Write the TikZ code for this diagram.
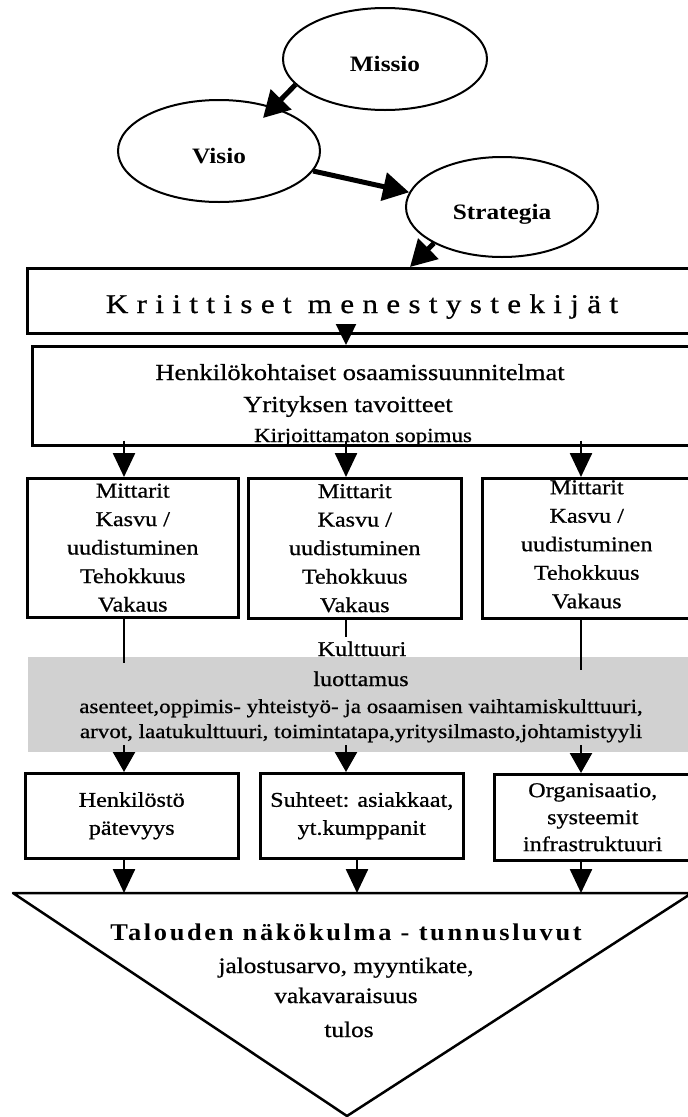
\documentclass[tikz,border=0pt]{standalone}
\usepackage{fontspec}
\setmainfont{Liberation Serif}[FakeStretch=1.15,UprightFeatures={FakeBold=0.7}]
\newfontfamily\trackedfont{Liberation Serif}[FakeStretch=1.15,LetterSpace=31,FakeBold=0.7]
\newfontfamily\trackedboldfont{Liberation Serif}[FakeStretch=1.1,LetterSpace=11]
\usetikzlibrary{shapes.geometric,arrows.meta,calc}

\tikzset{
  oval/.style={ellipse, draw, line width=2pt, inner sep=0pt,
    text height=24pt, text depth=0pt,
    font=\fontsize{22pt}{24pt}\selectfont\bfseries},
  frame/.style={draw, line width=2.5pt, rectangle, inner sep=0pt,
    anchor=north west, align=center},
  boxtext/.style={font=\fontsize{21pt}{28.5pt}\selectfont},
  txt/.style={anchor=base, inner sep=0pt},
  bigflow/.style={line width=5pt, -{Triangle[length=26pt,width=28pt]}},
  flow/.style={line width=2.5pt, -{Triangle[length=24pt,width=22pt]}},
  shortflow/.style={line width=2.5pt, -{Triangle[length=20pt,width=22pt]}},
  link/.style={line width=2.5pt},
}

\begin{document}
\begin{tikzpicture}[x=1pt,y=-1pt]
\useasboundingbox (0,0) rectangle (688,1117);
\clip (0,0) rectangle (688,1117);
\fill[white] (0,0) rectangle (688,1117);

% columns used by the vertical connectors
\coordinate (c1) at (124,0);
\coordinate (c2) at (346,0);
\coordinate (c3) at (581,0);
\coordinate (d2) at (357,0);

% mission, vision, strategy
\node[oval, minimum width=204pt, minimum height=102pt] (missio) at (385,59) {Missio};
\node[oval, minimum width=202pt, minimum height=102pt] (visio) at (219,151) {Visio};
\node[oval, minimum width=192pt, minimum height=100pt] (strategia) at (502,207) {Strategia};

% critical success factors
\node[frame, minimum width=664pt, minimum height=65pt] (ksf) at (26,267) {};
\node[txt, font=\trackedfont\fontsize{27pt}{30pt}\selectfont] (ksftext) at (362,313) {Kriittiset menestystekijät};
\coordinate (ksftop) at (410,267);

% plans and goals
\node[frame, minimum width=659pt, minimum height=99pt] (plan) at (31,345) {};
\node[txt, font=\fontsize{23pt}{28pt}\selectfont] (plan1) at (360,380) {Henkilökohtaiset osaamissuunnitelmat};
\node[txt, font=\fontsize{23pt}{28pt}\selectfont] (plan2) at (348,412) {Yrityksen tavoitteet};
\node[txt, font=\fontsize{20pt}{24pt}\selectfont] (plan3) at (363,442) {Kirjoittamaton sopimus};

% measures
\node[frame, boxtext, minimum width=211pt, minimum height=139pt] (m1) at (26,477)
  {Mittarit\\Kasvu /\\uudistuminen\\Tehokkuus\\Vakaus};
\node[frame, boxtext, minimum width=213pt, minimum height=140pt] (m2) at (247,477)
  {Mittarit\\Kasvu /\\uudistuminen\\Tehokkuus\\Vakaus};
\node[frame, boxtext, text depth=8pt, minimum width=209pt, minimum height=140pt] (m3) at (481,477)
  {Mittarit\\Kasvu /\\uudistuminen\\Tehokkuus\\Vakaus};

% culture band
\node[fill=black!18, inner sep=0pt, anchor=north west, minimum width=662pt, minimum height=95pt] (band) at (28,657) {};
\node[txt, font=\fontsize{21pt}{24pt}\selectfont] (kult) at (362,656) {Kulttuuri};
\node[txt, font=\fontsize{21pt}{24pt}\selectfont] (trust) at (361,686) {luottamus};
\node[txt, font=\fontsize{20pt}{24pt}\selectfont] (att) at (361,713) {asenteet,oppimis- yhteistyö- ja osaamisen vaihtamiskulttuuri,};
\node[txt, font=\fontsize{20pt}{24pt}\selectfont] (vals) at (361,738) {arvot, laatukulttuuri, toimintatapa,yritysilmasto,johtamistyyli};

% resources
\node[frame, boxtext, font=\fontsize{21pt}{28pt}\selectfont, minimum width=213pt, minimum height=85pt] (b1) at (24,772)
  {Henkilöstö\\pätevyys};
\node[frame, boxtext, font=\fontsize{21pt}{28pt}\selectfont, minimum width=203pt, minimum height=85pt] (b2) at (259,772)
  {Suhteet: asiakkaat,\\yt.kumppanit};
\node[frame, boxtext, font=\fontsize{21pt}{27pt}\selectfont, minimum width=197pt, minimum height=86pt] (b3) at (493,773)
  {Organisaatio,\\systeemit\\infrastruktuuri};

% financial perspective
\coordinate (fintl) at (13,893);
\coordinate (fintr) at (692,893);
\coordinate (finapex) at (347,1116);
\draw[link, line join=round] (fintl) -- (fintr) -- (finapex) -- cycle;
\node[txt, font=\trackedboldfont\fontsize{24pt}{28pt}\selectfont\bfseries] (fin1) at (346,940) {Talouden näkökulma - tunnusluvut};
\node[txt, font=\fontsize{22pt}{24pt}\selectfont] (fin2) at (346,973) {jalostusarvo, myyntikate,};
\node[txt, font=\fontsize{22pt}{24pt}\selectfont] (fin3) at (346,1003) {vakavaraisuus};
\node[txt, font=\fontsize{22pt}{24pt}\selectfont] (fin4) at (349,1037) {tulos};

% connectors
\draw[bigflow] (missio.196) -- ($(visio.center)+(44,-33)$);
\draw[bigflow] (visio.348) -- (strategia.171);
\draw[bigflow] (strategia.208) -- (ksftop);
\draw[line width=2.5pt, -{Triangle[length=21pt,width=20pt]}] ($(ksf.south -| c2)+(0,-10)$) -- (plan.north -| c2);

\draw[flow] ($(plan.south -| c1)+(0,-6)$) -- (m1.north -| c1);
\draw[flow] ($(plan.south -| c2)+(0,-6)$) -- (m2.north -| c2);
\draw[flow] ($(plan.south -| c3)+(0,-6)$) -- (m3.north -| c3);

\draw[link] (m1.south -| c1) -- ($(band.north -| c1)+(0,6)$);
\draw[link] (m2.south -| c2) -- ($(kult.north -| c2)+(0,-4)$);
\draw[link] (m3.south -| c3) -- ($(band.north -| c3)+(0,13)$);

\draw[shortflow] ($(band.south -| c1)+(0,-7)$) -- (b1.north -| c1);
\draw[shortflow] ($(band.south -| c2)+(0,-7)$) -- (b2.north -| c2);
\draw[shortflow] ($(band.south -| c3)+(0,-7)$) -- (b3.north -| c3);

\draw[flow] (b1.south -| c1) -- (c1 |- fintl);
\draw[flow] (b2.south -| d2) -- (d2 |- fintl);
\draw[flow] (b3.south -| c3) -- (c3 |- fintl);
\end{tikzpicture}
\end{document}
